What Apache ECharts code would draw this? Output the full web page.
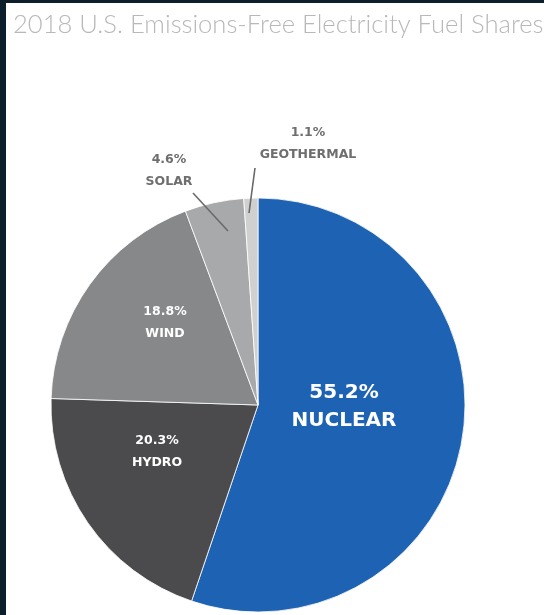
<!DOCTYPE html>
<html><head><meta charset="utf-8">
<script src="https://cdn.jsdelivr.net/npm/echarts@6/dist/echarts.min.js"></script>
<style>html,body{margin:0;padding:0;background:#fff}#c{width:544px;height:615px}</style>
</head><body><div id="c"></div>
<script>
const titleText = '2018 U.S. Emissions-Free Electricity Fuel Shares';
const categories = ['NUCLEAR', 'HYDRO', 'WIND', 'SOLAR', 'GEOTHERMAL'];
const shares = [55.2, 20.3, 18.8, 4.6, 1.1];
const colors = ['#1e63b3', '#4b4a4d', '#87888a', '#a8a9ab', '#d0d0d0'];

// label placement (pixels) per slice
const labelPos = [
  {x: 344, y: 407},
  {x: 157, y: 452},
  {x: 165, y: 323},
  {x: 169, y: 171, line: [[193, 193], [228, 231]]},
  {x: 308, y: 144, line: [[255, 168], [249, 213]]}
];

function richFor(big, col) {
  const s = {
    fontFamily: 'DejaVu Sans', fontWeight: 'bold',
    fontSize: big ? 20 : 12.5,
    lineHeight: big ? 28 : 22,
    color: col, align: 'center'
  };
  return {p: s, n: s};
}

const chart = echarts.init(document.getElementById('c'), null, {renderer: 'canvas'});

// base series: slices + inner labels
const baseData = categories.map((n, i) => ({
  name: n,
  value: shares[i],
  itemStyle: {color: colors[i]},
  label: {
    show: i < 3,
    position: 'inside',
    formatter: '{p|{c}%}\n{n|{b}}',
    rich: richFor(i === 0, '#ffffff')
  },
  labelLine: {show: false}
}));

// overlay series (transparent): outer labels with leader lines drawn above slices
const overData = categories.map((n, i) => ({
  name: n,
  value: shares[i],
  itemStyle: {color: 'rgba(0,0,0,0)'},
  label: {
    show: i >= 3,
    position: 'outside',
    formatter: '{p|{c}%}\n{n|{b}}',
    rich: richFor(false, '#6e6e6e')
  },
  labelLine: {show: i >= 3, lineStyle: {color: '#6a6a6a', width: 1.6}}
}));

function layoutFn(p) {
  const lp = labelPos[p.dataIndex];
  const r = {x: lp.x, y: lp.y, align: 'center', verticalAlign: 'middle'};
  if (lp.line) r.labelLinePoints = [lp.line[1], lp.line[0], lp.line[0]];
  return r;
}

chart.setOption({
  backgroundColor: '#ffffff',
  animation: false,
  title: {
    text: titleText, left: 8, top: 7,
    textStyle: {fontFamily: 'Lato', fontWeight: 300, fontSize: 25.6, color: '#b8b8b8'}
  },
  graphic: [
    {type: 'rect', shape: {x: 0, y: 0, width: 544, height: 3}, style: {fill: '#0c1d2b'}, z: 100},
    {type: 'rect', shape: {x: 0, y: 0, width: 6, height: 615}, style: {fill: '#0c1d2b'}, z: 100}
  ],
  series: [{
    type: 'pie',
    z: 2,
    center: [258, 405],
    radius: [0, 207],
    startAngle: 90,
    clockwise: true,
    avoidLabelOverlap: false,
    itemStyle: {borderColor: '#ffffff', borderWidth: 0.8},
    labelLayout: layoutFn,
    data: baseData
  }, {
    type: 'pie',
    z: 5,
    silent: true,
    center: [258, 405],
    radius: [0, 207],
    startAngle: 90,
    clockwise: true,
    avoidLabelOverlap: false,
    itemStyle: {borderWidth: 0},
    labelLayout: layoutFn,
    data: overData
  }]
});
</script></body></html>
